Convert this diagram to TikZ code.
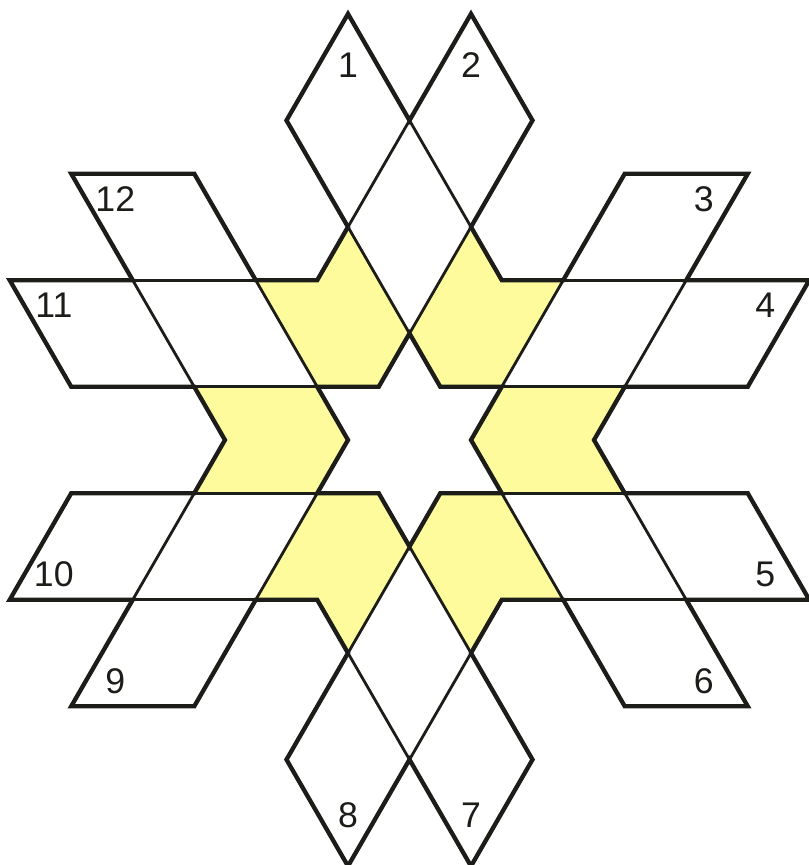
\documentclass[tikz,border=0pt]{standalone}
\usepackage{fontspec}
\setmainfont{Liberation Sans}
\definecolor{starfill}{RGB}{253,251,155}
\definecolor{ink}{RGB}{28,28,24}

\begin{document}
\begin{tikzpicture}[x=2cm, y=2cm, font=\fontsize{16.5}{16.5}\selectfont,
  patch/.style={fill=starfill},
  edge/.style={draw=ink, line width=1.3pt},
  rim/.style={draw=ink, line width=2pt, line join=miter},
  num/.style={inner sep=0pt, text=ink}]
  \def\h{0.8660254}
  \useasboundingbox (-3.329,-3.455) rectangle (3.240,3.577);

  % yellow patches round the middle
  \foreach \k in {0,...,5}
    \fill[patch, rotate=60*\k] (-0.5,2*\h) -- (-0.75,1.5*\h) -- (-1.25,1.5*\h)
      -- (-0.75,0.5*\h) -- (-0.25,0.5*\h) -- (0,\h) -- cycle;

  % edges of the twelve strips
  \foreach \k in {0,...,5}
    \draw[edge, rotate=60*\k]
      (-2.75,2.5*\h) -- (-1.75,2.5*\h)  (1.75,2.5*\h) -- (2.75,2.5*\h)
      (-3.25,1.5*\h) -- (-0.75,1.5*\h)  (0.75,1.5*\h) -- (3.25,1.5*\h)
      (-2.75,0.5*\h) -- (-0.25,0.5*\h)  (0.25,0.5*\h) -- (2.75,0.5*\h);

  % outer rim
  \draw[rim] (-0.75,2.5*\h) \foreach \k in {0,...,5}{
      -- ([rotate=-60*\k]-1,3*\h) -- ([rotate=-60*\k]-0.5,4*\h)
      -- ([rotate=-60*\k]0,3*\h) -- ([rotate=-60*\k]0.5,4*\h)
      -- ([rotate=-60*\k]1,3*\h) -- ([rotate=-60*\k]0.5,2*\h)
      -- ([rotate=-60*\k]0.75,1.5*\h) -- ([rotate=-60*\k]1.25,1.5*\h)} -- cycle;

  % star in the middle
  \draw[rim] (0,\h) -- (0.25,0.5*\h) -- (0.75,0.5*\h) -- (0.5,0) -- (0.75,-0.5*\h)
    -- (0.25,-0.5*\h) -- (0,-\h) -- (-0.25,-0.5*\h) -- (-0.75,-0.5*\h) -- (-0.5,0)
    -- (-0.75,0.5*\h) -- (-0.25,0.5*\h) -- cycle;

  \foreach \k/\a/\b in {0/1/2, 1/11/12, 2/9/10, 3/7/8, 4/5/6, 5/3/4} {
    \node[num] (n\a) at ([rotate=60*\k]-0.5,3.05) {\a};
    \node[num] (n\b) at ([rotate=60*\k]0.5,3.05) {\b};
  }
\end{tikzpicture}
\end{document}
